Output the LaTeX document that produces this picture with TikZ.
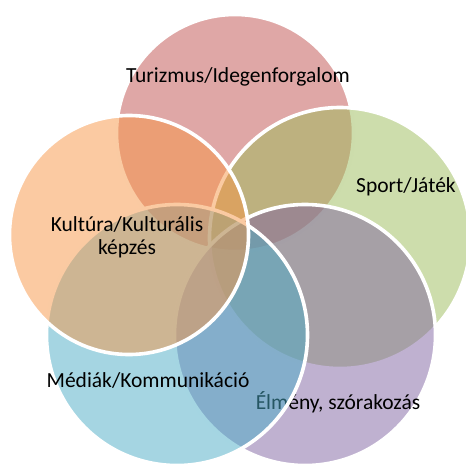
\documentclass[tikz,border=0pt]{standalone}
\usepackage{fontspec}
\setmainfont{Carlito}
\definecolor{cred}{HTML}{C0504D}
\definecolor{cgreen}{HTML}{9BBB59}
\definecolor{cpurple}{HTML}{8064A2}
\definecolor{cblue}{HTML}{4BACC6}
\definecolor{corange}{HTML}{F79646}
\tikzset{
  venn/.style={circle, inner sep=0pt, draw=white, line width=3.6pt, fill opacity=0.5, draw opacity=1},
  lbl/.style={font=\fontsize{21.5}{23}\selectfont, text=black, align=center, inner sep=0pt}
}
\begin{document}
\begin{tikzpicture}[x=1pt,y=-1pt]
\useasboundingbox (0,0) rectangle (466,464);
\clip (0,0) rectangle (466,464);
\node[venn, fill=cred, minimum size=237pt] (tur) at (235,133) {};
\node[lbl] (turl) at (238,77) {Turizmus/Idegenforgalom};
\node[venn, fill=cgreen, minimum size=261pt] (spo) at (340,238) {};
\node[lbl] (spol) at (406,187) {Sport/Játék};
\node[venn, fill=cpurple, minimum size=261pt] (elm) at (305,335) {};
\node[lbl] (elml) at (338,402) {Élmény, szórakozás};
\node[venn, fill=cblue, minimum size=261pt] (med) at (177,335) {};
\node[lbl] (medl) at (148,380) {Médiák/Kommunikáció};
\node[venn, fill=corange, minimum size=239pt] (kul) at (129,235) {};
\node[lbl] (kull) at (127,237) {Kultúra/Kulturális\\képzés};
\end{tikzpicture}
\end{document}
